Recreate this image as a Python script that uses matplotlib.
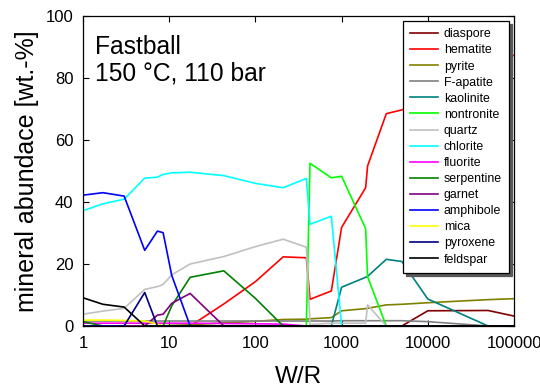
"""Mineral abundance vs W/R, Fastball at 150 °C / 110 bar."""

import matplotlib

matplotlib.use("Agg")
import matplotlib.pyplot as plt
from matplotlib.ticker import FixedLocator, FixedFormatter

# shared W/R grid
wr = [1, 1.7, 3, 5.2, 7.3, 8.5, 10.7, 17.5, 43, 100, 210, 390, 430, 760,
      1000, 1900, 2000, 3300, 5000, 10000, 50000, 100000]

diaspore = [0, 0, 0, 0, 0, 0, 0, 0, 0, 0, 0, 0, 0, 0,
            0, 0, 0, 0, 0, 4.9, 5.0, 3.2]
hematite = [0, 0, 0, 0, 0, 0, 0, 0, 7.1, 14.3, 22.3, 22.0, 8.6, 11.3,
            31.8, 44.6, 51.6, 68.5, 69.7, 73.0, 85.0, 87.3]
pyrite = [0, 0, 0, 0, 0, 0, 0.2, 0.4, 1.0, 1.5, 2.1, 2.2, 2.3, 2.7,
          4.9, 5.6, 5.7, 6.8, 7.0, 7.5, 8.5, 8.8]
f_apatite = [1.6, 1.6, 1.6, 1.6, 1.6, 1.6, 1.6, 1.6, 1.6, 1.6, 1.6, 1.6, 1.6, 1.6,
             1.7, 1.7, 1.7, 1.7, 1.7, 1.4, 0, 0]
kaolinite = [0, 0, 0, 0, 0, 0, 0, 0, 0, 0, 0, 0, 0, 0,
             12.5, 15.7, 16.0, 21.5, 20.8, 8.7, 0, 0]
nontronite = [0, 0, 0, 0, 0, 0, 0, 0, 0, 0, 0, 0, 52.5, 47.8,
              48.3, 31.4, 15.9, 0, 0, 0, 0, 0]
quartz = [3.8, 4.8, 5.7, 11.8, 12.7, 13.4, 16.5, 20.0, 22.4, 25.6, 28.0, 25.4, 0.5, 0.9,
          0.9, 0.9, 6.8, 0, 0, 0, 0, 0]
chlorite = [37.2, 39.4, 40.9, 47.7, 48.0, 48.9, 49.4, 49.6, 48.5, 46.0, 44.6, 47.6, 32.8, 35.4,
            0, 0, 0, 0, 0, 0, 0, 0]
fluorite = [0.9, 0.9, 0.9, 0.9, 0.9, 0.9, 0.9, 0.9, 0.8, 0.7, 0.6, 0, 0, 0,
            0, 0, 0, 0, 0, 0, 0, 0]
serpentine = [1.4, 0, 0, 0, 0, 0, 6.5, 15.7, 17.8, 8.9, 0, 0, 0, 0,
              0, 0, 0, 0, 0, 0, 0, 0]
garnet = [0, 0, 0, 0, 3.5, 3.8, 7.3, 10.5, 0, 0, 0, 0, 0, 0,
          0, 0, 0, 0, 0, 0, 0, 0]
amphibole = [42.2, 43.0, 41.9, 24.4, 30.6, 30.1, 16.3, 0, 0, 0, 0, 0, 0, 0,
             0, 0, 0, 0, 0, 0, 0, 0]
mica = [1.9, 1.9, 1.8, 1.6, 0.6, 0, 0, 0, 0, 0, 0, 0, 0, 0,
        0, 0, 0, 0, 0, 0, 0, 0]
pyroxene = [0, 0, 0, 10.8, 0, 0, 0, 0, 0, 0, 0, 0, 0, 0,
            0, 0, 0, 0, 0, 0, 0, 0]
feldspar = [9.1, 7.0, 6.1, 0, 0, 0, 0, 0, 0, 0, 0, 0, 0, 0,
            0, 0, 0, 0, 0, 0, 0, 0]

names = ["diaspore", "hematite", "pyrite", "F-apatite", "kaolinite", "nontronite",
         "quartz", "chlorite", "fluorite", "serpentine", "garnet", "amphibole",
         "mica", "pyroxene", "feldspar"]
series = [diaspore, hematite, pyrite, f_apatite, kaolinite, nontronite,
          quartz, chlorite, fluorite, serpentine, garnet, amphibole,
          mica, pyroxene, feldspar]
colors = ["#800000", "#ff0000", "#808000", "#808080", "#008080", "#00ff00",
          "#c0c0c0", "#00ffff", "#ff00ff", "#008000", "#800080", "#0000ff",
          "#ffff00", "#000080", "#000000"]

x_ticks = [1, 10, 100, 1000, 10000, 100000]
x_tick_labels = ["1", "10", "100", "1000", "10000", "100000"]
y_ticks = [0, 20, 40, 60, 80, 100]

plt.rcParams["font.family"] = ["Liberation Sans", "DejaVu Sans"]

fig = plt.figure(figsize=(5.4, 3.89), dpi=100)
ax = fig.add_axes([0.1537, 0.162, 0.7982, 0.7969])

for name, ys, c in zip(names, series, colors):
    ax.plot(wr, ys, color=c, lw=1.2, label=name)

ax.set_xscale("log")
ax.set_xlim(1, 100000)
ax.set_ylim(0, 100)
ax.xaxis.set_major_locator(FixedLocator(x_ticks))
ax.xaxis.set_major_formatter(FixedFormatter(x_tick_labels))
ax.xaxis.set_minor_locator(FixedLocator([]))
ax.set_yticks(y_ticks)
ax.tick_params(direction="in", top=True, right=True, length=4, width=0.8,
               labelsize=12, pad=7)
for sp in ax.spines.values():
    sp.set_linewidth(0.9)

ax.set_xlabel("W/R", fontsize=17.5, labelpad=11)
ax.set_ylabel("mineral abundace [wt.-%]", fontsize=18, labelpad=5)

ax.text(0.028, 0.94, "Fastball\n150 °C, 110 bar", transform=ax.transAxes,
        fontsize=17.7, va="top", ha="left", linespacing=1.15)

leg = ax.legend(loc="upper right", bbox_to_anchor=(0.9889, 0.9839),
                fontsize=8.9, frameon=True, fancybox=False,
                shadow={"color": "0.35", "alpha": 1, "ox": 2, "oy": -2},
                handlelength=2.2, handletextpad=0.5, labelspacing=0.33,
                borderpad=0.6, borderaxespad=0)
leg.get_frame().set_edgecolor("black")
leg.get_frame().set_linewidth(0.9)

fig.savefig("out.png", dpi=100)
